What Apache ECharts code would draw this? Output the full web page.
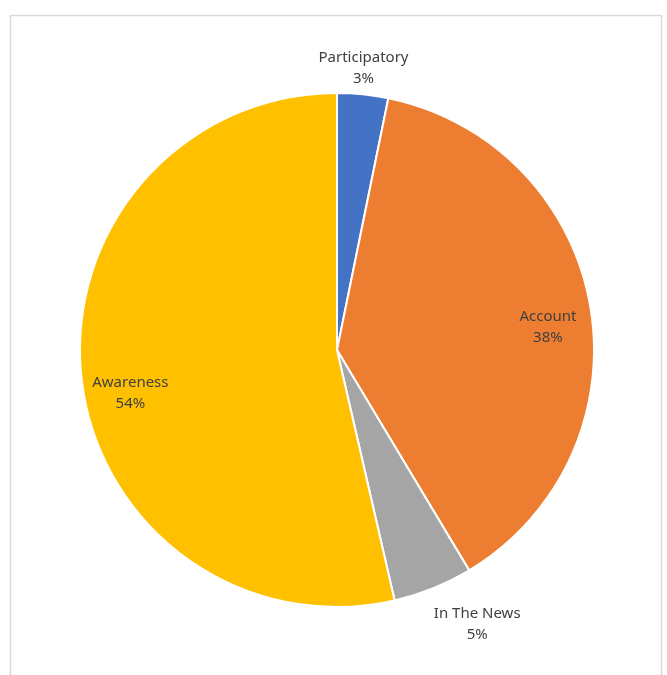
<!DOCTYPE html>
<html>
<head>
<meta charset="utf-8">
<script src="https://cdn.jsdelivr.net/npm/echarts@6/dist/echarts.min.js"></script>
<style>
    html, body { margin: 0; padding: 0; background: #fff; }
    #chart { width: 667px; height: 675px; }
</style>
</head>
<body>
<div id="chart"></div>
<script>
    // 数据
    var categories = ['Participatory', 'Account', 'In The News', 'Awareness'];
    var shares = [3.2, 38.2, 5.0, 53.6];
    var colors = ['#4472C4', '#ED7D31', '#A5A5A5', '#FFC000'];

    // 标签放在饼内还是饼外
    var innerLabels = ['Account', 'Awareness'];
    var outerLabels = ['Participatory', 'In The News'];

    var myChart = echarts.init(document.getElementById('chart'));

    var pieData = categories.map(function (name, i) {
        return { name: name, value: shares[i], itemStyle: { color: colors[i] } };
    });

    var labelStyle = {
        show: true,
        position: 'inside',
        formatter: '{b}\n{d}%',
        color: '#404040',
        fontFamily: 'Noto Sans',
        fontSize: 15,
        lineHeight: 21
    };

    // 只显示部分标签的透明饼，用来摆放标签
    function ghostSeries(names, radius, offsets) {
        return {
            type: 'pie',
            center: [337, 350],
            radius: radius,
            startAngle: 90,
            silent: true,
            percentPrecision: 0,
            emphasis: { disabled: true },
            labelLine: { show: false },
            itemStyle: { color: 'rgba(0,0,0,0)', borderWidth: 0 },
            label: labelStyle,
            labelLayout: function (params) {
                var o = offsets[params.dataIndex] || [0, 0];
                return { dx: o[0], dy: o[1] };
            },
            data: categories.map(function (name, i) {
                return {
                    name: name,
                    value: shares[i],
                    label: { show: names.indexOf(name) !== -1 }
                };
            })
        };
    }

    var option = {
        animation: false,
        backgroundColor: '#fff',
        graphic: [{
            type: 'rect',
            shape: { x: 10.5, y: 15.5, width: 651, height: 700 },
            style: { fill: 'none', stroke: '#d9d9d9', lineWidth: 1.5 },
            silent: true
        }],
        series: [
            {
                type: 'pie',
                center: [337, 350],
                radius: 257,
                startAngle: 90,
                percentPrecision: 0,
                label: { show: false },
                labelLine: { show: false },
                itemStyle: { borderColor: '#fff', borderWidth: 2 },
                data: pieData
            },
            ghostSeries(innerLabels, [196, 226], { 1: [0, 13], 3: [6, 19] }),
            ghostSeries(outerLabels, [270, 292], { 0: [-2, 1], 2: [34, 11] })
        ]
    };

    myChart.setOption(option);
</script>
</body>
</html>
